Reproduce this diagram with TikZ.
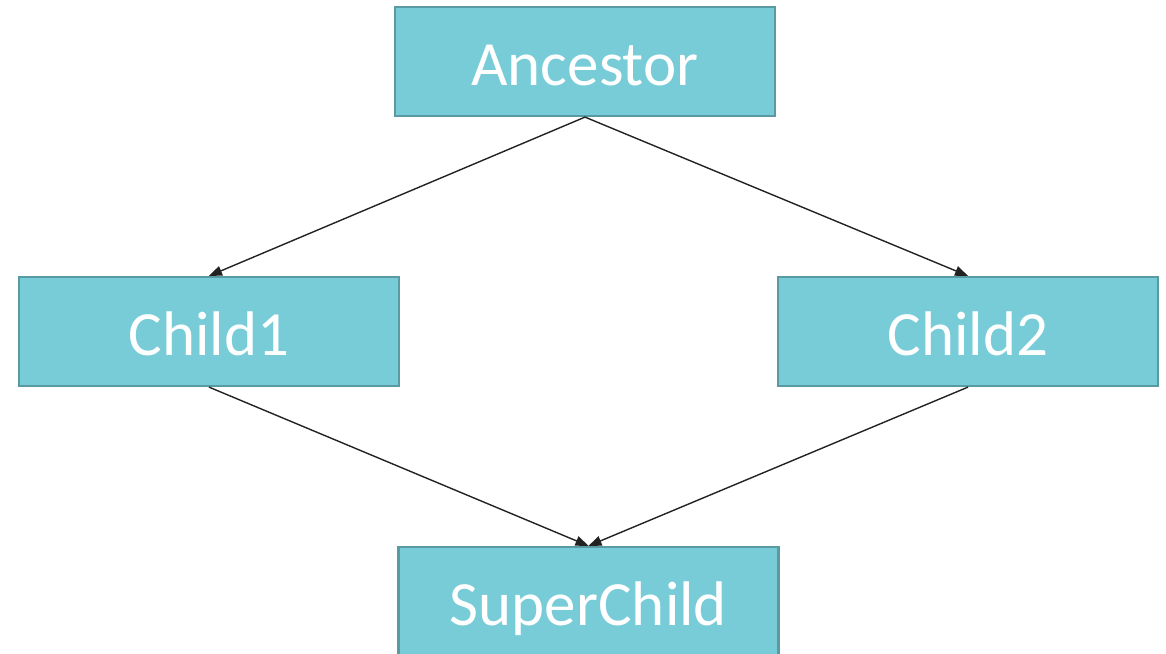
\documentclass[tikz,border=0pt]{standalone}
\usepackage{fontspec}
\setmainfont{Carlito}
\usetikzlibrary{arrows.meta}
\definecolor{boxfill}{HTML}{77CCD7}
\definecolor{boxline}{HTML}{5A9AA2}
\definecolor{linkcol}{HTML}{222222}
\begin{document}
\begin{tikzpicture}[x=1pt,y=-1pt,
  classbox/.style={draw=boxline, line width=2.2pt, fill=boxfill, text=white,
    minimum width=380pt, minimum height=109pt, inner sep=0pt,
    text height=48pt, text depth=0pt,
    font=\fontsize{63}{63}\selectfont},
  link/.style={draw=linkcol, line width=1.4pt,
    -{Triangle[length=13pt,width=10pt]}}]
  \useasboundingbox (0,0) rectangle (1166,653);
  \clip (0,0) rectangle (1166,653);
  \node[classbox] (anc) at (585,61.5) {Ancestor};
  \node[classbox] (c1) at (209,331.5) {Child1};
  \node[classbox] (c2) at (968,331.5) {Child2};
  \node[classbox] (sc) at (588.5,601.5) {SuperChild};
  \draw[link] (anc.south) -- (c1.north);
  \draw[link] (anc.south) -- (c2.north);
  \draw[link] (c1.south) -- (sc.north);
  \draw[link] (c2.south) -- (sc.north);
\end{tikzpicture}
\end{document}
